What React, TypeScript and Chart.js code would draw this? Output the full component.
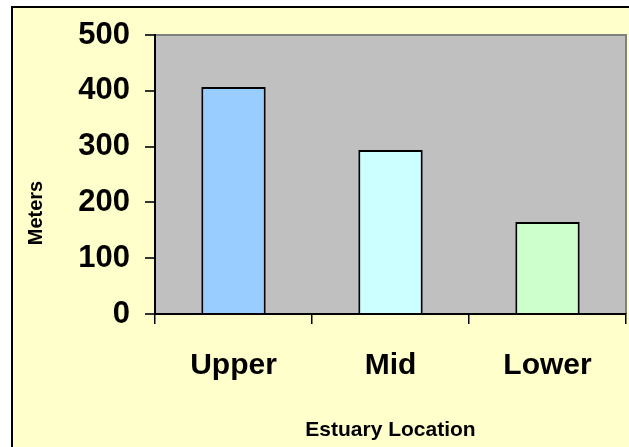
import React, { useEffect, useRef } from "react";
import { Chart, registerables } from "chart.js";

Chart.register(...registerables);

const categories = ["Upper", "Mid", "Lower"];
const meters = [407, 294, 165];
const barColors = ["#99CCFF", "#CCFFFF", "#CCFFCC"];
const yTickValues = [0, 100, 200, 300, 400, 500];
const xAxisTitle = "Estuary Location";
const yAxisTitle = "Meters";

const FONT = "'Liberation Sans', Arial, sans-serif";

const backgroundPlugin = {
  id: "bgPlugin",
  beforeDraw(chart: any) {
    const { ctx, width, height, chartArea } = chart;
    ctx.save();
    ctx.fillStyle = "#FFFFFF";
    ctx.fillRect(0, 0, width, height);
    ctx.fillStyle = "#FFFFCC";
    ctx.fillRect(12, 7, width - 12, height - 7);
    ctx.strokeStyle = "#000000";
    ctx.lineWidth = 2;
    ctx.beginPath();
    ctx.moveTo(12, height);
    ctx.lineTo(12, 7);
    ctx.lineTo(width, 7);
    ctx.stroke();
    ctx.fillStyle = "#C0C0C0";
    ctx.fillRect(
      chartArea.left,
      chartArea.top,
      chartArea.right - chartArea.left,
      chartArea.bottom - chartArea.top
    );
    ctx.strokeStyle = "#808080";
    ctx.lineWidth = 2;
    ctx.beginPath();
    ctx.moveTo(chartArea.left, chartArea.top);
    ctx.lineTo(chartArea.right, chartArea.top);
    ctx.lineTo(chartArea.right, chartArea.bottom);
    ctx.stroke();
    ctx.restore();
  },
  afterDraw(chart: any) {
    const { ctx } = chart;
    ctx.save();
    ctx.translate(36, 213);
    ctx.rotate(-Math.PI / 2);
    ctx.fillStyle = "#000000";
    ctx.font = `bold 20px ${FONT}`;
    ctx.textAlign = "center";
    ctx.textBaseline = "middle";
    ctx.fillText(yAxisTitle, 0, 0);
    ctx.restore();
  },
};

export default function App() {
  const ref = useRef<HTMLCanvasElement | null>(null);

  useEffect(() => {
    document.body.style.margin = "0";
    if (!ref.current) return;
    const chart = new Chart(ref.current, {
      type: "bar",
      data: {
        labels: categories,
        datasets: [
          {
            label: yAxisTitle,
            data: meters,
            backgroundColor: barColors,
            borderColor: "#000000",
            borderWidth: 2,
            categoryPercentage: 1,
            barPercentage: 0.41,
          },
        ],
      },
      options: {
        responsive: false,
        animation: false,
        layout: { padding: { top: 35, right: 3, left: 0, bottom: 0 } },
        plugins: {
          legend: { display: false },
          tooltip: { enabled: false },
        },
        scales: {
          x: {
            grid: {
              offset: true,
              drawOnChartArea: false,
              drawTicks: true,
              tickLength: 10,
              color: "#000000",
              lineWidth: 1.5,
            },
            border: { display: true, color: "#000000", width: 2 },
            ticks: {
              color: "#000000",
              padding: 24,
              font: { family: FONT, size: 30, weight: "bold" },
            },
            title: {
              display: true,
              text: xAxisTitle,
              color: "#000000",
              font: { family: FONT, size: 21, weight: "bold" },
              padding: { top: 0, bottom: 4 },
            },
            afterFit(scale: any) {
              scale.height = 133;
            },
          },
          y: {
            min: 0,
            max: 500,
            afterBuildTicks(scale: any) {
              scale.ticks = yTickValues.map((v) => ({ value: v }));
            },
            grid: {
              drawOnChartArea: false,
              drawTicks: true,
              tickLength: 10,
              color: "#333333",
              lineWidth: 2,
            },
            border: { display: true, color: "#000000", width: 2 },
            ticks: {
              color: "#000000",
              padding: 15,
              font: { family: FONT, size: 31, weight: "bold" },
            },
            afterFit(scale: any) {
              scale.width = 155;
            },
          },
        },
      },
      plugins: [backgroundPlugin],
    });
    return () => chart.destroy();
  }, []);

  return (
    <canvas
      ref={ref}
      width={629}
      height={447}
      style={{ display: "block", width: 629, height: 447 }}
    />
  );
}
